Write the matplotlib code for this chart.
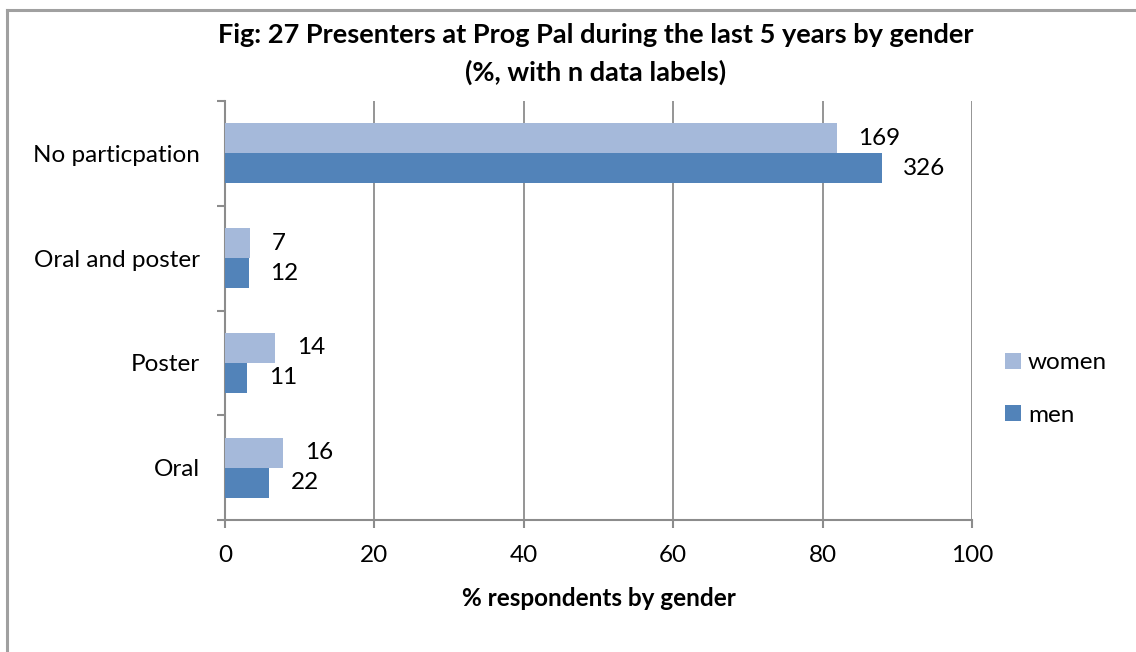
import matplotlib
matplotlib.use("Agg")
import matplotlib.pyplot as plt
from matplotlib.lines import Line2D
import numpy as np

plt.rcParams['font.family'] = ['Lato', 'DejaVu Sans']

categories = ["Oral", "Poster", "Oral and poster", "No particpation"]
women_pct = [7.8, 6.7, 3.4, 81.9]
men_pct = [5.9, 3.0, 3.2, 87.9]
women_n = [16, 14, 7, 169]
men_n = [22, 11, 12, 326]
xticks = [0, 20, 40, 60, 80, 100]

c_women = "#A5B9DA"
c_men = "#5283B9"
grid_c = "#8C8C8C"
fs = 17.5

W, H = 1136, 652
fig = plt.figure(figsize=(W / 100, H / 100), dpi=100)
ax = fig.add_axes([225 / W, 1 - 520 / H, (972 - 225) / W, (520 - 101) / H])

y = np.arange(len(categories))
bh = 1 / 3.5
ax.barh(y + bh / 2, women_pct, height=bh, color=c_women, label="women", zorder=3)
ax.barh(y - bh / 2, men_pct, height=bh, color=c_men, label="men", zorder=3)

for yi, v, n in zip(y, women_pct, women_n):
    ax.annotate(str(n), (v, yi + bh / 2), xytext=(15.5, 0), textcoords="offset points",
                va="center", ha="left", fontsize=fs)
for yi, v, n in zip(y, men_pct, men_n):
    ax.annotate(str(n), (v, yi - bh / 2), xytext=(15.5, 0), textcoords="offset points",
                va="center", ha="left", fontsize=fs)

ax.set_xlim(0, 100)
ax.set_ylim(-0.5, len(categories) - 0.5)
ax.set_xticks(xticks)
ax.set_xticklabels([str(t) for t in xticks], fontsize=fs)
ax.set_yticks(np.arange(-0.5, len(categories), 1.0))
ax.set_yticklabels([])
ax.set_yticks(y, minor=True)
ax.set_yticklabels(categories, minor=True, fontsize=fs)
ax.tick_params(axis="y", which="minor", length=0, pad=18)
ax.tick_params(axis="y", which="major", length=6, color=grid_c, width=1.5)
ax.tick_params(axis="x", length=6, color=grid_c, width=1.5, pad=12)
ax.xaxis.grid(True, color=grid_c, linewidth=1.3, zorder=0)
for s in ["top", "right"]:
    ax.spines[s].set_visible(False)
for s in ["left", "bottom"]:
    ax.spines[s].set_color(grid_c)
    ax.spines[s].set_linewidth(1.5)

ax.set_xlabel("% respondents by gender", fontsize=fs, fontweight="bold", labelpad=15)

fig.text(596 / W, 1 - 35 / H, "Fig: 27 Presenters at Prog Pal during the last 5 years by gender",
         ha="center", va="center", fontsize=19.5, fontweight="bold")
fig.text(596 / W, 1 - 72 / H, "(%, with n data labels)",
         ha="center", va="center", fontsize=19.5, fontweight="bold")

handles, labels = ax.get_legend_handles_labels()
leg = fig.legend(handles, labels, loc="center left", bbox_to_anchor=(983 / W, 1 - 389 / H),
                 frameon=False, fontsize=fs, handlelength=0.65, handleheight=0.65,
                 labelspacing=1.3, handletextpad=0.3)

fig.add_artist(Line2D([6.5 / W, 6.5 / W], [0, 1 - 10 / H], transform=fig.transFigure,
                      color="#A0A0A0", linewidth=2.2))
fig.add_artist(Line2D([6.5 / W, 1], [1 - 10 / H, 1 - 10 / H], transform=fig.transFigure,
                      color="#A0A0A0", linewidth=2.2))

fig.savefig("out.png", dpi=100)
